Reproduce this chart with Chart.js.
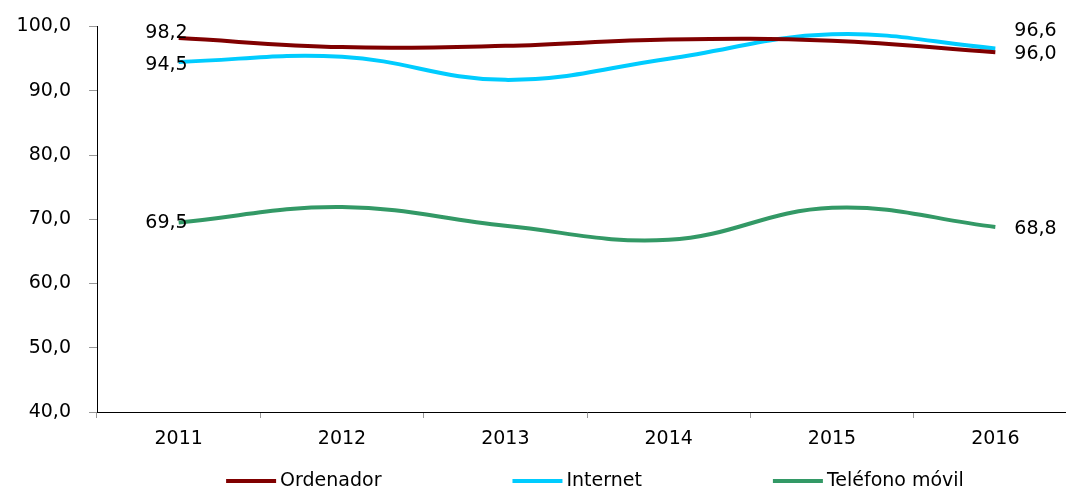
<!DOCTYPE html>
<html>
<head>
<meta charset="utf-8">
<script src="https://cdn.jsdelivr.net/npm/chart.js@4/dist/chart.umd.min.js"></script>
<style>
  html, body { margin: 0; padding: 0; background: #fff; overflow: hidden; }
  #wrap { position: relative; width: 1190px; height: 489px; }
</style>
</head>
<body>
<div id="wrap"><canvas id="chart"></canvas></div>
<script>
// chart data
const years = ['2011', '2012', '2013', '2014', '2015', '2016'];
const ordenador = [98.2, 96.8, 97.0, 98.0, 97.8, 96.0];
const internet = [94.5, 95.3, 91.7, 95.0, 98.8, 96.6];
const telefono = [69.5, 71.9, 69.0, 66.8, 71.8, 68.8];
const seriesNames = ['Ordenador', 'Internet', 'Teléfono móvil'];
const seriesColors = ['#800000', '#00CCFF', '#339966'];

const FONT = 'DejaVu Sans';

function fmt(v) {
  return v.toFixed(1).replace('.', ',');
}

// label nudges for first / last points (dy in px)
const firstDy = [-5, 3, 1];
const lastDy = [2, -17, 2];

// draws value labels on the first and last point of each line
const endLabels = {
  id: 'endLabels',
  afterDatasetsDraw(chart) {
    const ctx = chart.ctx;
    ctx.save();
    ctx.font = '19px "' + FONT + '"';
    ctx.fillStyle = '#000';
    ctx.textBaseline = 'middle';
    chart.data.datasets.forEach((ds, i) => {
      const pts = chart.getDatasetMeta(i).data;
      const first = pts[0];
      const last = pts[pts.length - 1];
      ctx.textAlign = 'right';
      ctx.fillText(fmt(ds.data[0]), first.x + 9, first.y + firstDy[i]);
      ctx.textAlign = 'left';
      ctx.fillText(fmt(ds.data[ds.data.length - 1]), last.x + 19, last.y + lastDy[i]);
    });
    ctx.restore();
  }
};

// simple bottom legend, excel style (wide gaps between entries)
const bottomLegend = {
  id: 'bottomLegend',
  afterDraw(chart) {
    const ctx = chart.ctx;
    const lineLen = 50, gap = 4, spacing = 131;
    const y = 481;
    ctx.save();
    ctx.font = '19px "' + FONT + '"';
    ctx.textBaseline = 'middle';
    ctx.textAlign = 'left';
    const items = chart.data.datasets.map(ds => ({
      text: ds.label,
      color: ds.borderColor,
      w: lineLen + gap + ctx.measureText(ds.label).width
    }));
    const total = items.reduce((s, it) => s + it.w, 0) + spacing * (items.length - 1);
    let x = chart.width / 2 - total / 2;
    items.forEach(it => {
      ctx.strokeStyle = it.color;
      ctx.lineWidth = 4;
      ctx.beginPath();
      ctx.moveTo(x, y);
      ctx.lineTo(x + lineLen, y);
      ctx.stroke();
      ctx.fillStyle = '#000';
      ctx.fillText(it.text, x + lineLen + gap, y);
      x += it.w + spacing;
    });
    ctx.restore();
  }
};

const datasets = [ordenador, internet, telefono].map((vals, i) => ({
  label: seriesNames[i],
  data: vals,
  borderColor: seriesColors[i],
  backgroundColor: seriesColors[i],
  borderWidth: 4,
  tension: 0.4,
  pointRadius: 0,
  fill: false
}));

new Chart(document.getElementById('chart'), {
  type: 'line',
  data: { labels: years, datasets: datasets },
  plugins: [endLabels, bottomLegend],
  options: {
    responsive: true,
    maintainAspectRatio: false,
    animation: false,
    layout: { padding: { left: 0, right: 113, top: 0, bottom: 0 } },
    plugins: {
      tooltip: { enabled: false },
      legend: { display: false }
    },
    scales: {
      x: {
        offset: true,
        afterFit(scale) { scale.height = 77; },
        grid: {
          offset: true,
          drawOnChartArea: false,
          drawTicks: true,
          tickLength: 6,
          color: '#999'
        },
        border: { color: '#000', width: 1 },
        ticks: {
          font: { family: FONT, size: 19 },
          color: '#000',
          padding: 10
        }
      },
      y: {
        min: 40,
        max: 100,
        afterFit(scale) { scale.width = 97; },
        grid: {
          drawOnChartArea: false,
          drawTicks: true,
          tickLength: 8,
          color: '#999'
        },
        border: { color: '#000', width: 1 },
        ticks: {
          stepSize: 10,
          font: { family: FONT, size: 19, lineHeight: 0.9 },
          color: '#000',
          padding: 18,
          callback: v => fmt(v)
        }
      }
    }
  }
});
</script>
</body>
</html>
